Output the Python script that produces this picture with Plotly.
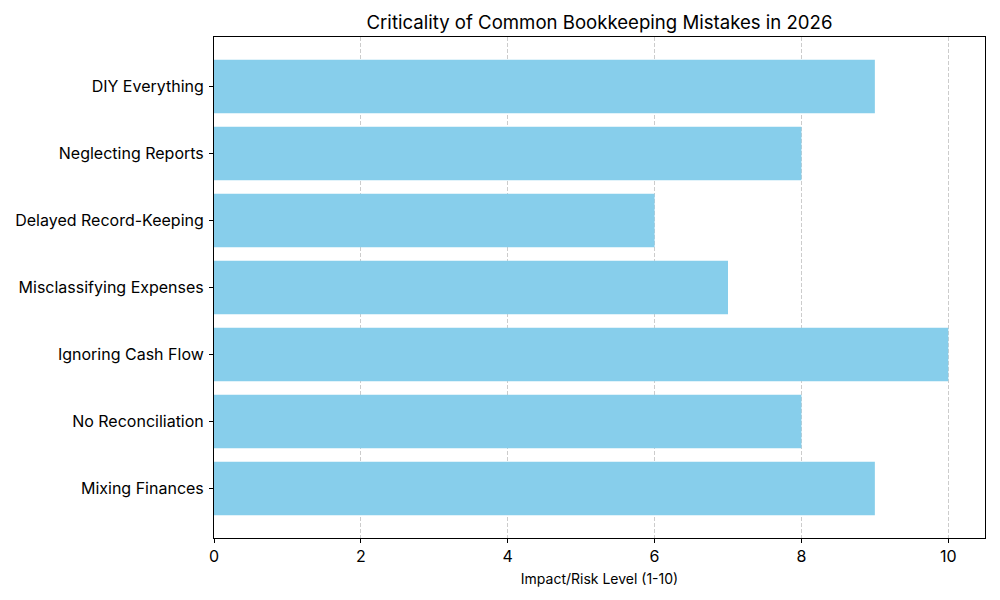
import plotly.graph_objects as go

categories = ["Mixing Finances", "No Reconciliation", "Ignoring Cash Flow",
              "Misclassifying Expenses", "Delayed Record-Keeping",
              "Neglecting Reports", "DIY Everything"]
impact = [9, 8, 10, 7, 6, 8, 9]
x_ticks = [0, 2, 4, 6, 8, 10]

FONT = "Inter"

fig = go.Figure()
fig.add_trace(go.Bar(
    x=impact, y=categories, orientation="h",
    marker=dict(color="#87CEEB", line=dict(width=0)),
    width=0.8,
))

fig.update_layout(
    width=1000, height=600,
    margin=dict(l=214, r=15, t=37, b=62),
    plot_bgcolor="white", paper_bgcolor="white",
    font=dict(family=FONT, color="black", size=16),
    title=dict(text="Criticality of Common Bookkeeping Mistakes in 2026",
               x=0.5995, xanchor="center", y=0.963, yanchor="middle",
               font=dict(size=18.6, family=FONT, color="black")),
    showlegend=False,
    bargap=0.2,
)
fig.update_xaxes(
    range=[0, 10.5], tickvals=x_ticks, ticktext=[str(v) for v in x_ticks],
    showgrid=True, gridcolor="#cccccc", griddash="4px,2px", gridwidth=1,
    showline=True, linecolor="black", linewidth=1, mirror=True,
    ticks="outside", ticklen=4, tickcolor="black",
    zeroline=False, layer="above traces",
    title=dict(text="Impact/Risk Level (1-10)", font=dict(size=14, family=FONT), standoff=8),
    tickfont=dict(size=16),
)
fig.update_yaxes(
    range=[-0.74, 6.74], categoryorder="array", categoryarray=categories,
    showgrid=False, showline=True, linecolor="black", linewidth=1, mirror=True,
    ticks="outside", ticklen=4, tickcolor="black", zeroline=False,
    ticklabelstandoff=2,
    tickfont=dict(size=16),
)

fig.write_html("out.html")
